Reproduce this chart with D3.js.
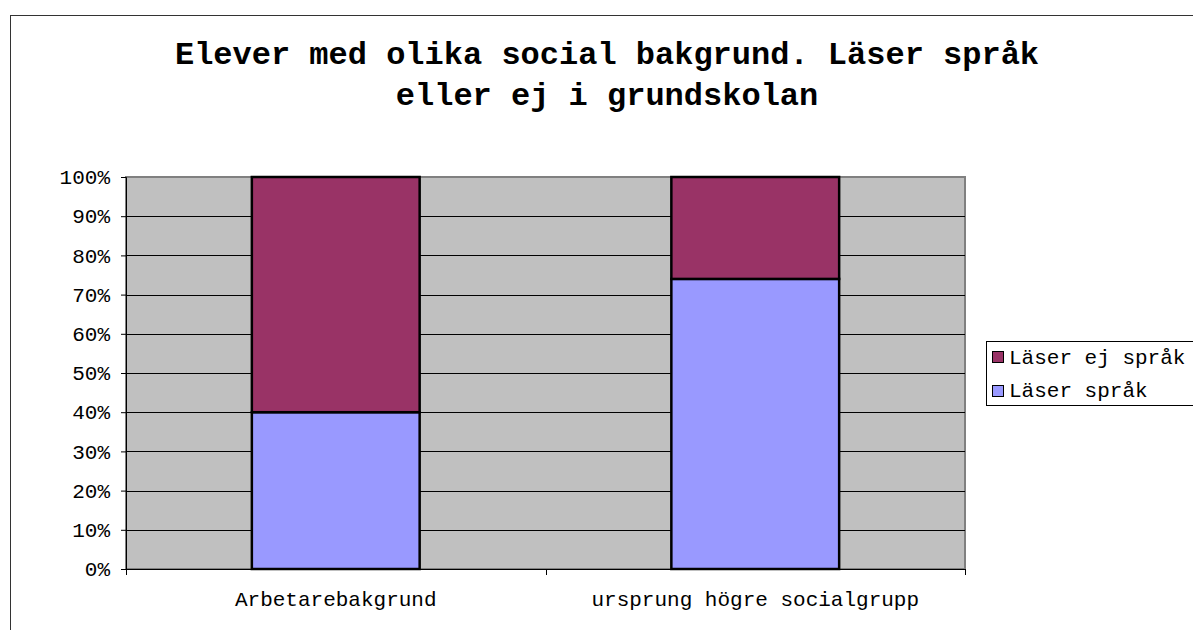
<!DOCTYPE html>
<html>
<head>
<meta charset="utf-8">
<script src="https://cdn.jsdelivr.net/npm/d3@7"></script>
<style>
  body { margin: 0; background: #fff; }
  svg { display: block; }
  text { font-family: 'Liberation Mono', 'Courier New', monospace; fill: #000; }
</style>
</head>
<body>
<svg></svg>
<script>
let categories = ['Arbetarebakgrund', 'ursprung högre socialgrupp']
let seriesNames = ['Läser språk', 'Läser ej språk']
let laserSprak = [40, 74]
let laserEjSprak = [60, 26]
let yTicks = [0, 10, 20, 30, 40, 50, 60, 70, 80, 90, 100]
let titleLines = ['Elever med olika social bakgrund. Läser språk', 'eller ej i grundskolan']
let colors = ['#9999ff', '#993366']

let width = 1193
let height = 630
let plotLeft = 126
let plotRight = 965
let plotTop = 177
let plotBottom = 569

let svg = d3.select('svg')
  .attr('width', width)
  .attr('height', height)

// outer chart frame (runs off the right and bottom edge like the original)
svg.append('rect')
  .attr('x', 10.5)
  .attr('y', 15.5)
  .attr('width', width)
  .attr('height', height)
  .attr('fill', '#fff')
  .attr('stroke', '#333')

svg.selectAll('.title')
  .data(titleLines)
  .enter()
  .append('text')
  .attr('class', 'title')
  .attr('x', 607)
  .attr('y', (d, i) => 64 + i * 41)
  .attr('text-anchor', 'middle')
  .style('font-size', '32px')
  .style('font-weight', 'bold')
  .text(d => d)

let xScale = d3.scaleBand()
  .domain(categories)
  .range([plotLeft, plotRight])
  .paddingInner(0.6)
  .paddingOuter(0.3)

let xAxisScale = d3.scaleBand()
  .domain(categories)
  .range([plotLeft, plotRight])

let yScale = d3.scaleLinear()
  .domain([0, 100])
  .range([plotBottom, plotTop])

// plot background
svg.append('rect')
  .attr('x', plotLeft)
  .attr('y', plotTop)
  .attr('width', plotRight - plotLeft)
  .attr('height', plotBottom - plotTop)
  .attr('fill', '#c0c0c0')
  .attr('stroke', '#808080')
  .attr('stroke-width', 2)

// gridlines
svg.append('g')
  .selectAll('line')
  .data(yTicks.slice(1, -1))
  .enter()
  .append('line')
  .attr('x1', plotLeft)
  .attr('x2', plotRight)
  .attr('y1', d => Math.round(yScale(d)) + 0.5)
  .attr('y2', d => Math.round(yScale(d)) + 0.5)
  .attr('stroke', '#000')

// stacked bars
let stackData = categories.map((c, i) => ({ cat: c, 'Läser språk': laserSprak[i], 'Läser ej språk': laserEjSprak[i] }))
let stack = d3.stack().keys(seriesNames)(stackData)

svg.append('g')
  .selectAll('g')
  .data(stack)
  .enter()
  .append('g')
  .attr('fill', (d, i) => colors[i])
  .selectAll('rect')
  .data(d => d)
  .enter()
  .append('rect')
  .attr('x', d => xScale(d.data.cat))
  .attr('y', d => yScale(d[1]))
  .attr('width', xScale.bandwidth())
  .attr('height', d => yScale(d[0]) - yScale(d[1]))
  .attr('stroke', '#000')
  .attr('stroke-width', 2.5)

// y axis
let yAxis = d3.axisLeft(yScale)
  .tickValues(yTicks)
  .tickFormat(d => d + '%')
  .tickSize(5)
  .tickPadding(11)

svg.append('g')
  .attr('transform', 'translate(' + plotLeft + ', 0)')
  .call(yAxis)
  .call(g => g.selectAll('text').style('font-size', '21px').style('font-family', "'Liberation Mono', monospace"))
  .call(g => g.select('.domain').attr('stroke', '#000'))

// x axis with ticks between categories
let xAxis = d3.axisBottom(xAxisScale)
  .tickSize(6)
  .tickPadding(16)

let xg = svg.append('g')
  .attr('transform', 'translate(0, ' + plotBottom + ')')
  .call(xAxis)

xg.select('.domain').attr('d', 'M' + plotLeft + ',0.5H' + plotRight).attr('stroke', '#000')
xg.selectAll('.tick line').remove()
xg.selectAll('.tick text')
  .style('font-size', '21px')
  .style('font-family', "'Liberation Mono', monospace")

xg.selectAll('.sep')
  .data([plotLeft, (plotLeft + plotRight) / 2, plotRight])
  .enter()
  .append('line')
  .attr('x1', d => Math.round(d) + 0.5)
  .attr('x2', d => Math.round(d) + 0.5)
  .attr('y1', 0)
  .attr('y2', 6)
  .attr('stroke', '#000')

// legend
let legend = svg.append('g')

legend.append('rect')
  .attr('x', 986.5)
  .attr('y', 341.5)
  .attr('width', 260)
  .attr('height', 64)
  .attr('fill', '#fff')
  .attr('stroke', '#000')

let legendItems = [seriesNames[1], seriesNames[0]]
let legendColors = [colors[1], colors[0]]

legend.selectAll('.sw')
  .data(legendItems)
  .enter()
  .append('rect')
  .attr('x', 992.5)
  .attr('y', (d, i) => 351.5 + i * 34)
  .attr('width', 11)
  .attr('height', 11)
  .attr('fill', (d, i) => legendColors[i])
  .attr('stroke', '#000')

legend.selectAll('.lt')
  .data(legendItems)
  .enter()
  .append('text')
  .attr('x', 1009)
  .attr('y', (d, i) => 364 + i * 33)
  .style('font-size', '21px')
  .text(d => d)
</script>
</body>
</html>
